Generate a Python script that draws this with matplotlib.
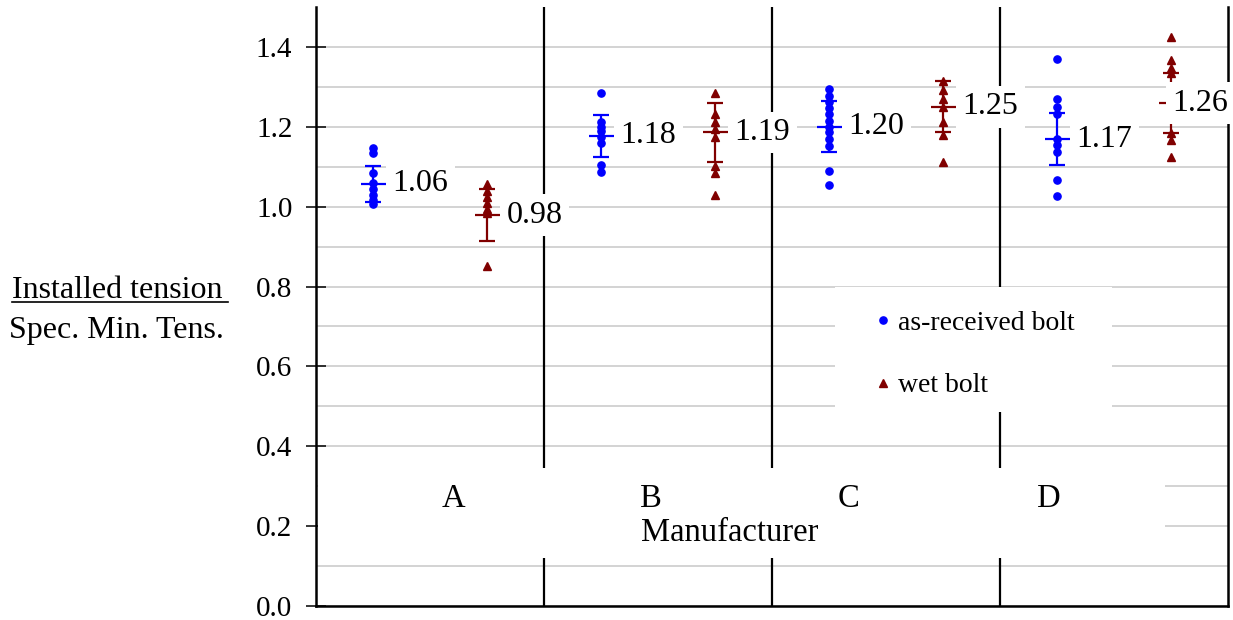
import numpy as np
import matplotlib
matplotlib.use("Agg")
import matplotlib.pyplot as plt
import matplotlib.transforms as mtransforms
from matplotlib.patches import Rectangle
from matplotlib.lines import Line2D

plt.rcParams['font.family'] = ['Liberation Serif', 'DejaVu Serif']

# ---------------- data ----------------
categories = ['A', 'B', 'C', 'D']

asrec_A = [1.148, 1.134, 1.084, 1.059, 1.044, 1.029, 1.017, 1.007]
asrec_B = [1.284, 1.213, 1.200, 1.190, 1.175, 1.160, 1.104, 1.088]
asrec_C = [1.295, 1.278, 1.262, 1.246, 1.231, 1.215, 1.200, 1.186, 1.170, 1.152, 1.090, 1.054]
asrec_D = [1.369, 1.270, 1.250, 1.232, 1.170, 1.155, 1.138, 1.067, 1.027]

wet_A = [1.058, 1.040, 1.025, 1.010, 0.995, 0.985, 0.851]
wet_B = [1.284, 1.232, 1.212, 1.195, 1.175, 1.102, 1.085, 1.030]
wet_C = [1.315, 1.292, 1.270, 1.250, 1.213, 1.180, 1.111]
wet_D = [1.426, 1.367, 1.348, 1.335, 1.184, 1.167, 1.125]

means_asrec = [1.057, 1.177, 1.200, 1.169]
sd_asrec = [0.045, 0.052, 0.064, 0.065]
means_wet = [0.979, 1.186, 1.250, 1.259]
sd_wet = [0.065, 0.074, 0.064, 0.075]

labels_asrec = ['1.06', '1.18', '1.20', '1.17']
labels_wet = ['0.98', '1.19', '1.25', '1.26']

yticks = [0.0, 0.2, 0.4, 0.6, 0.8, 1.0, 1.2, 1.4]
ytick_labels = ['0.0', '0.2', '0.4', '0.6', '0.8', '1.0', '1.2', '1.4']

# label x-offsets (points); the last label is pushed left to stay inside the chart
offs_asrec = [14, 14, 14, 14]
offs_wet = [14, 14, 14, 1]

# ---------------- figure ----------------
BLUE = '#0000FF'
RED = '#800000'

fig = plt.figure(figsize=(12.33, 6.2), dpi=100)
ax = fig.add_axes([316 / 1233, 1 - 606 / 620, 912 / 1233, 599 / 620])
ax.set_xlim(0, 4)
ax.set_ylim(0, 1.5)
blend = mtransforms.blended_transform_factory(ax.transAxes, ax.transData)

# gridlines every 0.1
ax.set_yticks(np.arange(0.1, 1.5, 0.1), minor=True)
ax.grid(True, axis='y', which='both', color='#C8C8C8', lw=1.1, zorder=0)
ax.set_axisbelow(True)

# separators between manufacturers
for i in range(1, len(categories)):
    ax.axvline(i, color='black', lw=1.6, zorder=2)

asrec_all = [asrec_A, asrec_B, asrec_C, asrec_D]
wet_all = [wet_A, wet_B, wet_C, wet_D]

for i in range(len(categories)):
    xa = i + 0.25
    xw = i + 0.75
    ax.plot(np.full(len(asrec_all[i]), xa), asrec_all[i], 'o', color=BLUE,
            ms=5.2, mec=BLUE, zorder=5)
    ax.plot(np.full(len(wet_all[i]), xw), wet_all[i], '^', color=RED,
            ms=5.5, mec=RED, zorder=5)
    ax.errorbar([xa], [means_asrec[i]], yerr=[sd_asrec[i]], fmt='_', color=BLUE,
                ms=18, mew=1.6, elinewidth=1.6, capsize=6, capthick=1.6, zorder=6)
    ax.errorbar([xw], [means_wet[i]], yerr=[sd_wet[i]], fmt='_', color=RED,
                ms=18, mew=1.6, elinewidth=1.6, capsize=6, capthick=1.6, zorder=6)
    for x, m, lab, dx in ((xa, means_asrec[i], labels_asrec[i], offs_asrec[i]),
                          (xw, means_wet[i], labels_wet[i], offs_wet[i])):
        t = ax.annotate(lab, xy=(x, m), xytext=(dx, 0), textcoords='offset points',
                        ha='left', va='center', fontsize=23, color='black',
                        bbox=dict(boxstyle='square,pad=0.2', fc='white', ec='none'),
                        zorder=20, annotation_clip=False)
        t.set_clip_on(False)

# white box behind x labels
ax.add_patch(Rectangle((2 / 912, 0.120), (1165 - 318) / 912, 0.226, transform=blend,
                       facecolor='white', edgecolor='none', zorder=3))
cat_x = [0.151, 0.367, 0.584, 0.803]
for cx, c in zip(cat_x, categories):
    ax.text(cx, 0.268, c, transform=blend, ha='center', va='center', fontsize=23.5, zorder=4)
ax.text(0.454, 0.183, 'Manufacturer', transform=blend,
        ha='center', va='center', fontsize=23.5, zorder=4)

# legend with white box
ax.add_patch(Rectangle(((835 - 316) / 912, 0.486), (1112 - 835) / 912, 0.313, transform=blend,
                       facecolor='white', edgecolor='none', zorder=3))
handles = [Line2D([], [], ls='none', marker='o', color=BLUE, ms=5.2),
           Line2D([], [], ls='none', marker='^', color=RED, ms=5.5)]
leg = ax.legend(handles, ['as-received bolt', 'wet bolt'], loc='center left',
                bbox_to_anchor=((875.5 - 316) / 912, 0.420), frameon=False,
                fontsize=20, handlelength=0.54, handletextpad=0.27, borderpad=0,
                borderaxespad=0, labelspacing=1.33)
leg.set_zorder(4)

# axes styling
ax.set_xticks([])
ax.set_yticks(yticks)
ax.set_yticklabels(ytick_labels)
ax.tick_params(axis='y', which='major', direction='inout', length=14, width=1.1,
               labelsize=21, pad=10)
ax.tick_params(axis='y', which='minor', length=0)
for s in ('left', 'bottom', 'right'):
    ax.spines[s].set_linewidth(1.8)
    ax.spines[s].set_zorder(10)
ax.spines['top'].set_visible(False)

# y label (fraction style)
fig.text(117 / 1233, 1 - 291 / 620, 'Installed tension', ha='center', va='center', fontsize=23)
fig.add_artist(Line2D([12 / 1233, 228 / 1233], [1 - 302 / 620, 1 - 302 / 620],
                      transform=fig.transFigure, color='black', lw=1.2))
fig.text(116 / 1233, 1 - 331 / 620, 'Spec. Min. Tens.', ha='center', va='center', fontsize=23)

fig.savefig('out.png', dpi=100)
